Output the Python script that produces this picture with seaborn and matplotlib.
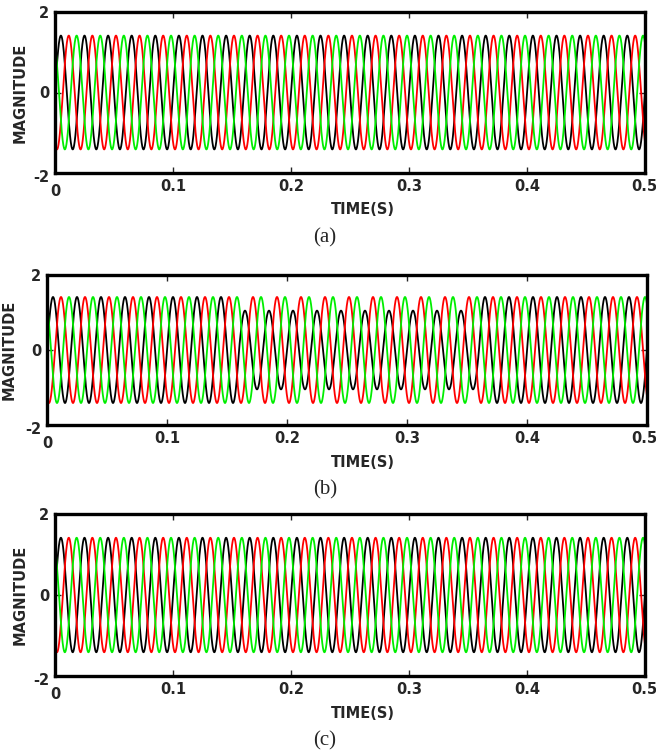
import matplotlib
matplotlib.use("Agg")
import matplotlib.pyplot as plt
import matplotlib.transforms as mtransforms
import seaborn as sns
import numpy as np
import pandas as pd

# three-phase waveform
FREQ_HZ = 50
T_END = 0.5
AMPLITUDE = 1.414
PHASE_DEG = [0, -120, 120]          # black, red, green
PHASE_COLORS = ["black", "#ff0000", "#00ee00"]
PHASE_NAMES = ["A", "B", "C"]

# panel (b): sag on phase A
SAG_PANEL = [False, True, False]
SAG_START = 0.16
SAG_END = 0.36
SAG_AMPLITUDE = 1.05

PANEL_TAGS = ["(a)", "(b)", "(c)"]
X_TICKS = [0, 0.1, 0.2, 0.3, 0.4, 0.5]
X_TICK_LABELS = ["0", "0.1", "0.2", "0.3", "0.4", "0.5"]
Y_TICKS = [-2, 0, 2]
Y_TICK_LABELS = ["-2", "0", "2"]

sns.set_style("ticks")
plt.rcParams["font.family"] = ["DejaVu Sans"]

W, H = 656, 756
fig = plt.figure(figsize=(W / 100, H / 100), dpi=100)

# axes boxes in pixels: left, top, right, bottom
boxes = [(55, 12, 645, 173), (47, 275, 647, 425), (55, 514, 645, 676)]
ylabel_x = [20, 9, 20]

t = np.linspace(0, T_END, 6001)


def make_frame(with_sag):
    rows = []
    for name, ph in zip(PHASE_NAMES, PHASE_DEG):
        amp = np.full_like(t, AMPLITUDE)
        if with_sag and name == "A":
            amp[(t >= SAG_START) & (t < SAG_END)] = SAG_AMPLITUDE
        v = amp * np.sin(2 * np.pi * FREQ_HZ * t + np.deg2rad(ph))
        rows.append(pd.DataFrame({"time": t, "value": v, "phase": name}))
    return pd.concat(rows, ignore_index=True)


def nudge(label, dx, dy):
    label.set_transform(label.get_transform() +
                        mtransforms.ScaledTranslation(dx / 100, dy / 100, fig.dpi_scale_trans))


for i, (l, tp, r, b) in enumerate(boxes):
    ax = fig.add_axes([l / W, 1 - b / H, (r - l) / W, (b - tp) / H])
    df = make_frame(SAG_PANEL[i])
    sns.lineplot(data=df, x="time", y="value", hue="phase",
                 palette=dict(zip(PHASE_NAMES, PHASE_COLORS)),
                 estimator=None, errorbar=None, linewidth=1.3,
                 legend=False, ax=ax)
    ax.set_xlim(0, T_END)
    ax.set_ylim(-2, 2)
    ax.set_xticks(X_TICKS)
    ax.set_xticklabels(X_TICK_LABELS)
    ax.set_yticks(Y_TICKS)
    ax.set_yticklabels(Y_TICK_LABELS)
    ax.set_xlabel("")
    ax.set_ylabel("")
    for s in ax.spines.values():
        s.set_visible(True)
        s.set_linewidth(2.4)
        s.set_color("black")
    ax.tick_params(direction="in", length=4, width=1, top=True, right=True,
                   labelsize=10.5, pad=4)
    for lab in ax.get_xticklabels() + ax.get_yticklabels():
        lab.set_fontweight("heavy")
    # matlab style nudge of the corner labels, keep 0.5 inside the figure
    nudge(ax.get_xticklabels()[0], 0, -5)
    nudge(ax.get_yticklabels()[0], 0, -3)
    nudge(ax.get_xticklabels()[-1], (W - 2 - 10) - r, 0)

    fig.text(363 / W, 1 - (b + 37) / H, "TIME(S)", ha="center", va="center",
             fontsize=10.5, fontweight="heavy")
    fig.text(ylabel_x[i] / W, 1 - ((tp + b) / 2) / H, "MAGNITUDE", ha="center",
             va="center", rotation=90, fontsize=10.5, fontweight="heavy")
    fig.text(325 / W, 1 - (b + 65) / H, PANEL_TAGS[i], ha="center", va="center",
             fontsize=15, family=["Liberation Serif", "DejaVu Serif"])

fig.savefig("out.png", dpi=100)
